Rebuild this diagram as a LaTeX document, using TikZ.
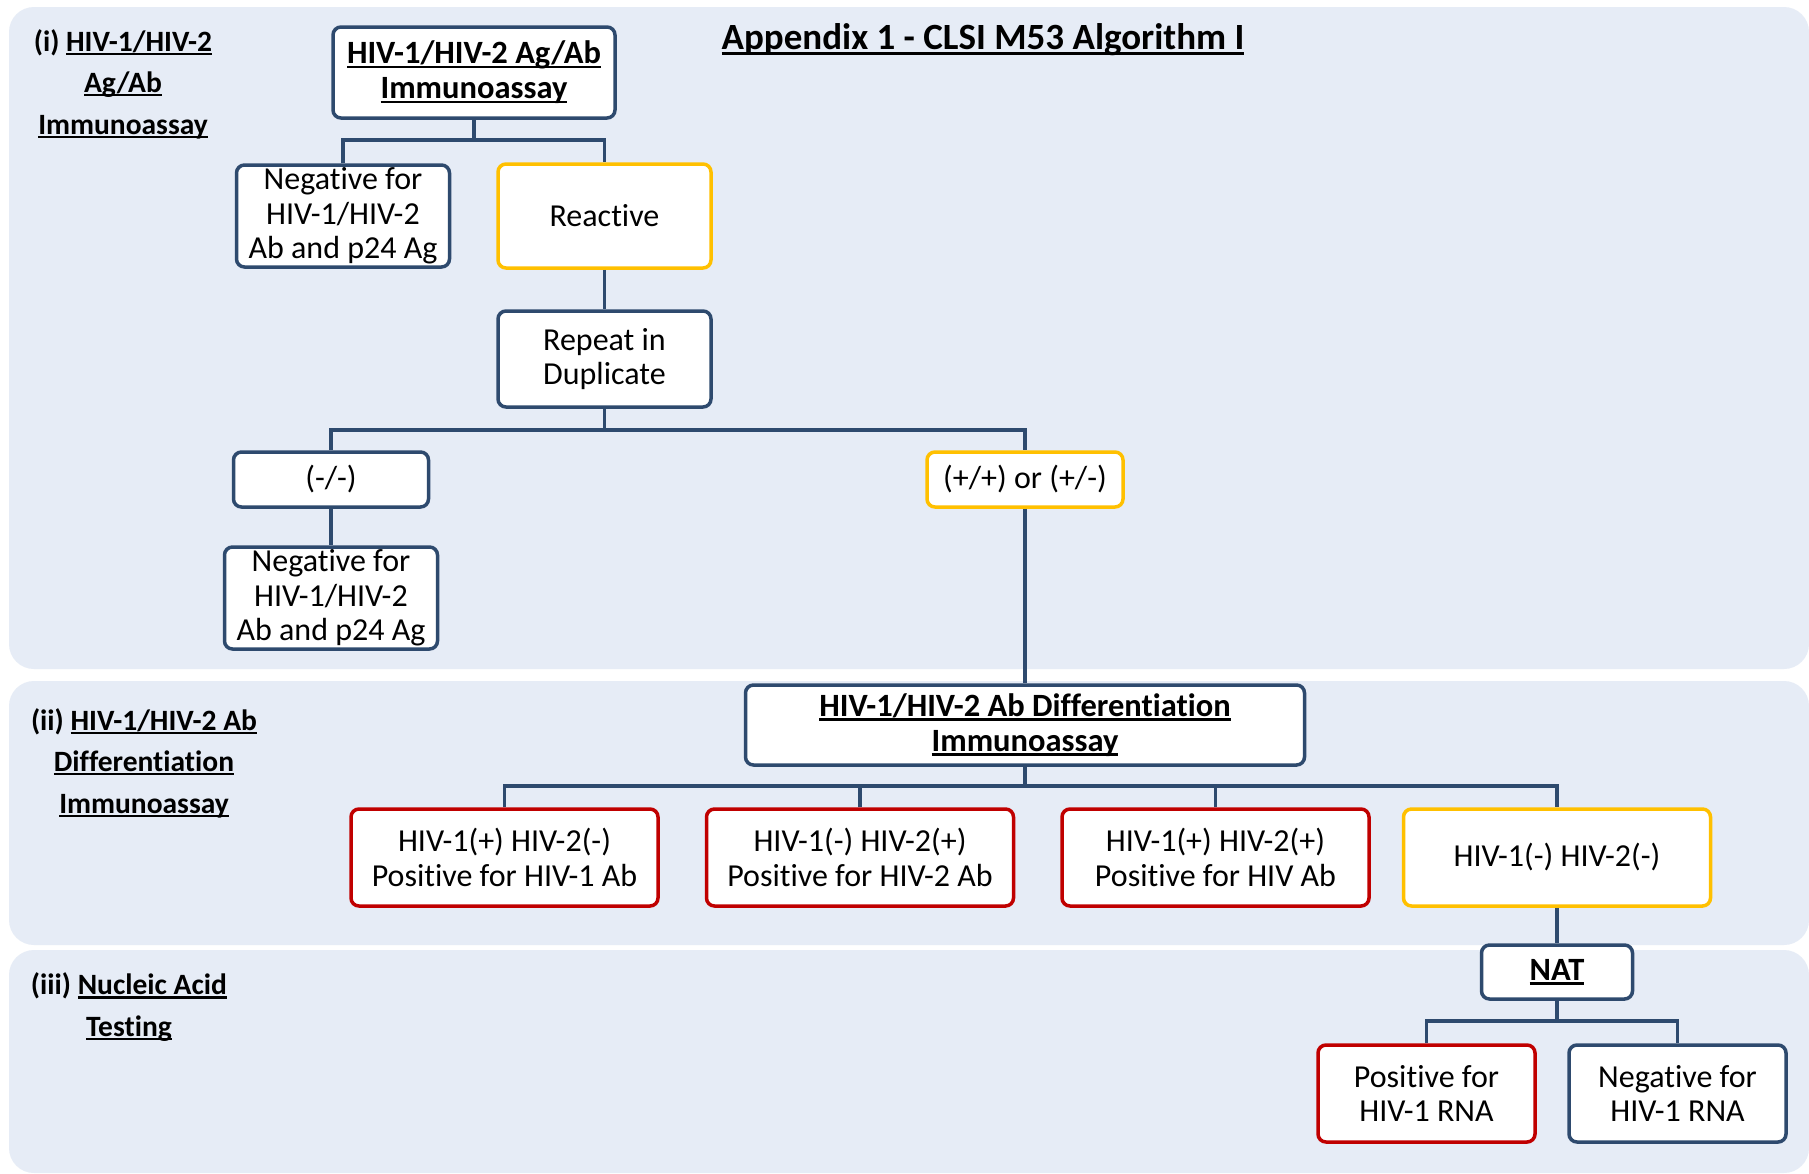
\documentclass[tikz,border=0pt]{standalone}
\usepackage{fontspec}
\setmainfont{Carlito}[Ligatures=NoCommon]
\newsavebox\ulbox
\newcommand\myul[1]{\sbox\ulbox{#1}\rlap{\rule[-0.13em]{\wd\ulbox}{0.075em}}\usebox\ulbox}
\definecolor{navy}{HTML}{2E4A6E}
\definecolor{gold}{HTML}{FFC000}
\definecolor{redb}{HTML}{C00000}
\definecolor{panelc}{HTML}{E6ECF6}
\begin{document}
\begin{tikzpicture}[x=1pt,y=-1pt,
  box/.style={draw=navy, line width=3.5pt, rounded corners=8pt, fill=white, align=center, inner sep=0pt, font=\fontsize{32}{34.5}\selectfont},
  bbox/.style={box, font=\fontsize{32.5}{35}\selectfont\bfseries},
  ybox/.style={box, draw=gold},
  rbox/.style={box, draw=redb},
  conn/.style={draw=navy, line width=3.5pt},
  panel/.style={fill=panelc, rounded corners=25pt},
  lbl/.style={align=center, inner sep=0pt, font=\fontsize{29.5}{41.5}\selectfont\bfseries}
]
\useasboundingbox (0,0) rectangle (1809,1173);
\fill[white] (0,0) rectangle (1809,1173);
\fill[panel] (9,7) rectangle (1809,669);
\fill[panel] (9,681) rectangle (1809,945);
\fill[panel] (9,950) rectangle (1809,1173);

% labels
\node[lbl] (l1) at (123,84) {(i) \myul{HIV-1/HIV-2}\\\myul{Ag/Ab}\\\myul{Immunoassay}};
\node[lbl] (l2) at (144,763) {(ii) \myul{HIV-1/HIV-2 Ab}\\\myul{Differentiation}\\\myul{Immunoassay}};
\node[lbl] (l3) at (129,1007) {(iii) \myul{Nucleic Acid}\\\myul{Testing}};
\node[inner sep=0pt, font=\fontsize{37}{42}\selectfont\bfseries] (title) at (983,40) {\myul{Appendix 1 - CLSI M53 Algorithm I}};

% nodes
\node[bbox, minimum width=282, minimum height=91] (top) at (474,72.5) {\myul{HIV-1/HIV-2 Ag/Ab}\\\myul{Immunoassay}};
\node[box, minimum width=213, minimum height=102] (neg1) at (343,216) {Negative for\\HIV-1/HIV-2\\Ab and p24 Ag};
\node[ybox, minimum width=213, minimum height=104] (react) at (604.5,216) {Reactive};
\node[box, minimum width=213, minimum height=96] (rep) at (604.5,359) {Repeat in\\Duplicate};
\node[box, minimum width=195, minimum height=55] (mm) at (331,479.5) {(-/-)};
\node[box, minimum width=213, minimum height=102] (neg2) at (331,598) {Negative for\\HIV-1/HIV-2\\Ab and p24 Ag};
\node[ybox, minimum width=196, minimum height=55] (pp) at (1025,479.5) {(+/+) or (+/-)};
\node[bbox, minimum width=559, minimum height=80] (diff) at (1025,725) {\myul{HIV-1/HIV-2 Ab Differentiation}\\\myul{Immunoassay}};
\node[rbox, minimum width=307, minimum height=97] (ra) at (504.5,857.5) {HIV-1(+) HIV-2(-)\\Positive for HIV-1 Ab};
\node[rbox, minimum width=307, minimum height=97] (rb) at (860,857.5) {HIV-1(-) HIV-2(+)\\Positive for HIV-2 Ab};
\node[rbox, minimum width=307, minimum height=97] (rc) at (1215.5,857.5) {HIV-1(+) HIV-2(+)\\Positive for HIV Ab};
\node[ybox, minimum width=307, minimum height=97] (rd) at (1557,857.5) {HIV-1(-) HIV-2(-)};
\node[bbox, minimum width=151, minimum height=54] (nat) at (1557,972) {\myul{NAT}};
\node[rbox, minimum width=217, minimum height=97] (pos) at (1426.5,1093.5) {Positive for\\HIV-1 RNA};
\node[box, minimum width=217, minimum height=97] (neg3) at (1677.5,1093.5) {Negative for\\HIV-1 RNA};

% connectors
\coordinate (b1) at (474,140);
\coordinate (b2) at (604.5,430);
\coordinate (b3) at (1025,786);
\coordinate (b4) at (1557,1021);
\draw[conn] (top.south) -- (b1);
\draw[conn] (neg1.north) |- (b1) -| (react.north);
\draw[conn] (react.south) -- (rep.north);
\draw[conn] (rep.south) -- (b2);
\draw[conn] (mm.north) |- (b2) -| (pp.north);
\draw[conn] (mm.south) -- (neg2.north);
\draw[conn] (pp.south) -- (diff.north);
\draw[conn] (diff.south) -- (b3);
\draw[conn] (ra.north) |- (b3) -| (rd.north);
\draw[conn] (rb.north) -- (rb.north |- b3);
\draw[conn] (rc.north) -- (rc.north |- b3);
\draw[conn] (rd.south) -- (nat.north);
\draw[conn] (nat.south) -- (b4);
\draw[conn] (pos.north) |- (b4) -| (neg3.north);
\end{tikzpicture}
\end{document}
